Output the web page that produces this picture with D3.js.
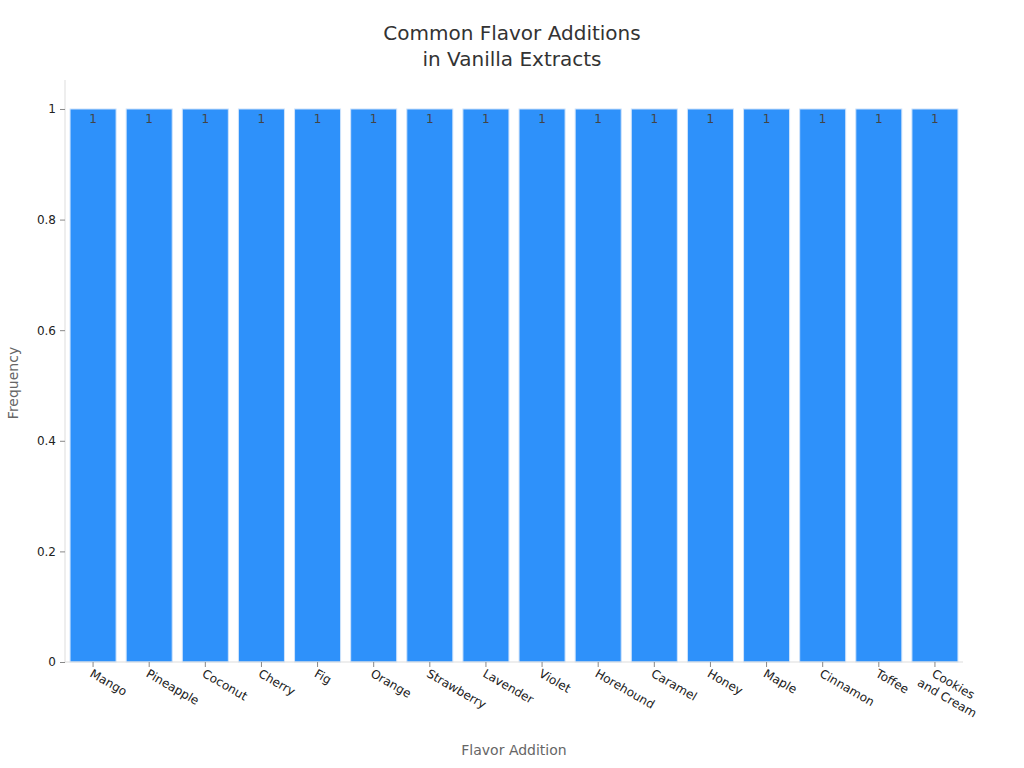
<!DOCTYPE html>
<html><head><meta charset="utf-8">
<script src="https://cdn.jsdelivr.net/npm/d3@7"></script>
<style>body{margin:0;background:#fff;font-family:"DejaVu Sans",sans-serif}</style>
</head><body>
<svg id="chart" width="1024" height="768"></svg>
<script>
let flavors = ["Mango", "Pineapple", "Coconut", "Cherry", "Fig", "Orange", "Strawberry", "Lavender",
  "Violet", "Horehound", "Caramel", "Honey", "Maple", "Cinnamon", "Toffee", "Cookies and Cream"];
let frequency = [1, 1, 1, 1, 1, 1, 1, 1, 1, 1, 1, 1, 1, 1, 1, 1];
let yTicks = [0, 0.2, 0.4, 0.6, 0.8, 1];

let margin = { top: 80, right: 61, bottom: 106, left: 65 };
let width = 1024 - margin.left - margin.right;
let height = 768 - margin.top - margin.bottom;

let svg = d3.select("#chart");
let g = svg.append("g").attr("transform", "translate(" + margin.left + "," + margin.top + ")");

let x = d3.scaleBand().domain(flavors).range([0, width]).paddingInner(0.18).paddingOuter(0.09);
let y = d3.scaleLinear().domain([0, 1.0524]).range([height, 0]);

// title
svg.append("text").attr("x", 512).attr("y", 40).attr("text-anchor", "middle")
  .attr("font-size", 20).attr("fill", "#333").text("Common Flavor Additions");
svg.append("text").attr("x", 512).attr("y", 66).attr("text-anchor", "middle")
  .attr("font-size", 20).attr("fill", "#333").text("in Vanilla Extracts");

// bars
g.selectAll(".bar").data(frequency).enter().append("rect")
  .attr("x", (d, i) => x(flavors[i]))
  .attr("y", d => y(d))
  .attr("width", x.bandwidth())
  .attr("height", d => height - y(d))
  .attr("fill", "#2e91fa")
  .attr("stroke", "#cfe3fb").attr("stroke-width", 1);

g.selectAll(".val").data(frequency).enter().append("text")
  .attr("x", (d, i) => x(flavors[i]) + x.bandwidth() / 2)
  .attr("y", d => y(d) + 14)
  .attr("text-anchor", "middle").attr("font-size", 12).attr("fill", "#444")
  .text(d => d);

// y axis
let yAxis = g.append("g").call(d3.axisLeft(y).tickValues(yTicks).tickSize(5).tickPadding(4)
  .tickFormat(d => d === 0 || d === 1 ? d : d.toFixed(1)));
yAxis.select(".domain").attr("stroke", "#ddd").attr("d", "M0," + height + "V0");
yAxis.selectAll(".tick line").attr("stroke", "#888");
yAxis.selectAll("text").attr("font-size", 12).attr("fill", "#222").attr("font-family", "DejaVu Sans");

// x axis
let xAxis = g.append("g").attr("transform", "translate(0," + height + ")")
  .call(d3.axisBottom(x).tickSize(5).tickPadding(6));
xAxis.select(".domain").attr("stroke", "#ddd").attr("d", "M0,0H" + width);
xAxis.selectAll(".tick line").attr("stroke", "#888");
xAxis.selectAll(".tick text").each(function(d) {
  let t = d3.select(this);
  t.text(null).attr("font-size", 12).attr("fill", "#222").attr("font-family", "DejaVu Sans")
    .attr("text-anchor", "start").attr("transform", "translate(-4,14) rotate(30)").attr("y", 0).attr("dy", 0);
  let lines = d === "Cookies and Cream" ? ["Cookies", "and Cream"] : [d];
  lines.forEach((s, i) => t.append("tspan").attr("x", i ? -8 : 0).attr("dy", i ? 15 : 0)
    .attr("text-anchor", i ? "start" : "start").text(s));
});

// axis titles
svg.append("text").attr("x", margin.left + width / 2).attr("y", 755).attr("text-anchor", "middle")
  .attr("font-size", 14).attr("fill", "#666").text("Flavor Addition");
svg.append("text").attr("transform", "translate(18," + (margin.top + height / 2 + 12) + ") rotate(-90)")
  .attr("text-anchor", "middle").attr("font-size", 14).attr("fill", "#666").text("Frequency");
</script>
</body></html>
